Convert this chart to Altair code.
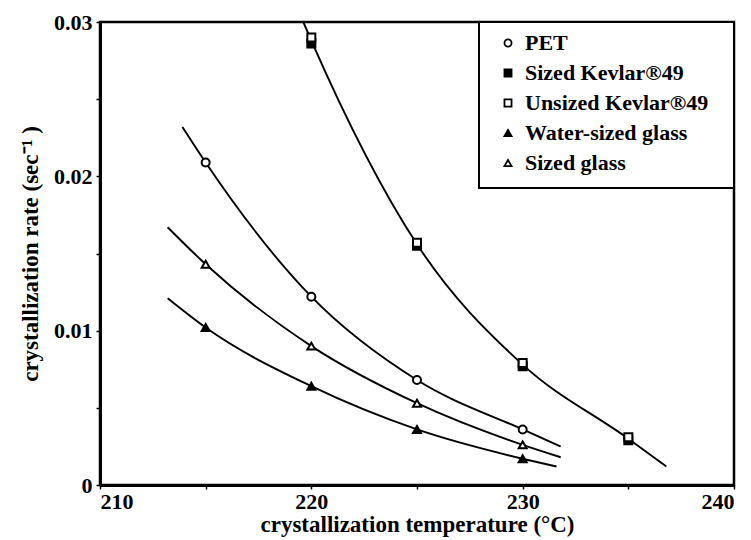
import altair as alt
import pandas as pd

# ---- data ----
series_names = ["PET", "Sized Kevlar®49", "Unsized Kevlar®49", "Water-sized glass", "Sized glass"]
series_shapes = ["circle", "square", "square", "triangle-up", "triangle-up"]
series_fills = ["white", "black", "white", "black", "white"]
series_strokes = ["black", "black", "black", "black", "black"]

pet_temp = [215, 220, 225, 230]
pet_rate = [0.0209, 0.0122, 0.0068, 0.0036]
sized_kevlar_temp = [220, 225, 230, 235]
sized_kevlar_rate = [0.0286, 0.0155, 0.0077, 0.0029]
unsized_kevlar_temp = [220, 225, 230, 235]
unsized_kevlar_rate = [0.0290, 0.0157, 0.0079, 0.0031]
water_glass_temp = [215, 220, 225, 230]
water_glass_rate = [0.0102, 0.0064, 0.0036, 0.0017]
sized_glass_temp = [215, 220, 225, 230]
sized_glass_rate = [0.0143, 0.0090, 0.0053, 0.0026]

# fitted curves
kevlar_curve_temp = [219.62, 220, 225, 230, 235, 236.8]
kevlar_curve_rate = [0.0300, 0.0288, 0.0156, 0.0078, 0.0030, 0.0012]
pet_curve_temp = [213.9, 215, 220, 225, 230, 231.8]
pet_curve_rate = [0.0232, 0.0209, 0.0122, 0.0068, 0.0036, 0.0025]
sg_curve_temp = [213.2, 215, 220, 225, 230, 231.8]
sg_curve_rate = [0.0167, 0.0143, 0.0090, 0.0053, 0.0026, 0.0018]
wg_curve_temp = [213.2, 215, 220, 225, 230, 231.6]
wg_curve_rate = [0.0121, 0.0102, 0.0064, 0.0036, 0.0017, 0.0012]

x_ticks = [210, 215, 220, 225, 230, 235, 240]
y_ticks = [0, 0.005, 0.01, 0.015, 0.02, 0.025, 0.03]

# ---- tables ----
rows = []
for name, ts, rs in [
    (series_names[0], pet_temp, pet_rate),
    (series_names[1], sized_kevlar_temp, sized_kevlar_rate),
    (series_names[2], unsized_kevlar_temp, unsized_kevlar_rate),
    (series_names[3], water_glass_temp, water_glass_rate),
    (series_names[4], sized_glass_temp, sized_glass_rate),
]:
    for t, r in zip(ts, rs):
        rows.append({"series": name, "temp": t, "rate": r})
pts = pd.DataFrame(rows)

crows = []
for name, ts, rs in [
    ("kevlar", kevlar_curve_temp, kevlar_curve_rate),
    ("pet", pet_curve_temp, pet_curve_rate),
    ("sg", sg_curve_temp, sg_curve_rate),
    ("wg", wg_curve_temp, wg_curve_rate),
]:
    for t, r in zip(ts, rs):
        crows.append({"curve": name, "temp": t, "rate": r})
curves = pd.DataFrame(crows)

FONT = "Liberation Serif"
W, H = 634, 463

x_scale = alt.Scale(domain=[210, 240], nice=False, zero=False)
y_scale = alt.Scale(domain=[0, 0.03], nice=False, zero=False)

x_axis = alt.Axis(
    values=x_ticks,
    labelExpr="datum.value % 10 == 0 ? datum.label : ''",
    format="d",
    title="crystallization temperature (°C)",
    grid=False, domainWidth=3, domainColor="black",
    tickSize=4, tickWidth=1.5, tickColor="black",
    labelFont=FONT, labelFontSize=22, labelFontWeight="bold", labelColor="black",
    labelPadding=2,
    titleFont=FONT, titleFontSize=23, titleFontWeight="bold", titleColor="black",
    titlePadding=1,
)
y_axis = alt.Axis(
    values=y_ticks,
    labelExpr="datum.value == 0 ? '0' : (round(datum.value * 1000) % 10 == 0 ? format(datum.value, '.2f') : '')",
    title="crystallization rate (sec⁻¹ )",
    grid=False, domainWidth=3, domainColor="black",
    tickSize=4, tickWidth=1.5, tickColor="black",
    labelFont=FONT, labelFontSize=22, labelFontWeight="bold", labelColor="black",
    labelPadding=4,
    titleFont=FONT, titleFontSize=23, titleFontWeight="bold", titleColor="black",
    titlePadding=11,
)

legend = alt.Legend(
    orient="none", legendX=397, legendY=10, title=None,
    labelFont=FONT, labelFontSize=22, labelFontWeight="bold", labelColor="black",
    labelLimit=400,
    symbolSize=50, symbolStrokeWidth=1.8,
    rowPadding=8, labelOffset=6, padding=0,
)

box = alt.Chart(pd.DataFrame({"k": [0]})).mark_rect(
    fill="white", stroke="black", strokeWidth=2
).encode(x=alt.value(379), x2=alt.value(W), y=alt.value(0), y2=alt.value(166))

lines = alt.Chart(curves).mark_line(
    color="black", strokeWidth=1.9, interpolate="monotone"
).encode(
    x=alt.X("temp:Q", scale=x_scale, axis=x_axis),
    y=alt.Y("rate:Q", scale=y_scale, axis=y_axis),
    detail="curve:N",
)

points = alt.Chart(pts).mark_point(
    filled=True, strokeWidth=2, size=64, opacity=1
).encode(
    x=alt.X("temp:Q", scale=x_scale),
    y=alt.Y("rate:Q", scale=y_scale),
    shape=alt.Shape("series:N", scale=alt.Scale(domain=series_names, range=series_shapes), legend=legend),
    fill=alt.Fill("series:N", scale=alt.Scale(domain=series_names, range=series_fills), legend=legend),
    stroke=alt.Stroke("series:N", scale=alt.Scale(domain=series_names, range=series_strokes), legend=legend),
)

chart = alt.layer(box, lines, points).properties(
    width=W, height=H,
    autosize=alt.AutoSizeParams(type="none"),
    padding={"left": 100, "top": 22, "right": 17, "bottom": 55},
    background="white",
).configure_view(stroke="black", strokeWidth=2.5)

chart.save("out.html", embed_options={"renderer": "svg", "actions": False})
